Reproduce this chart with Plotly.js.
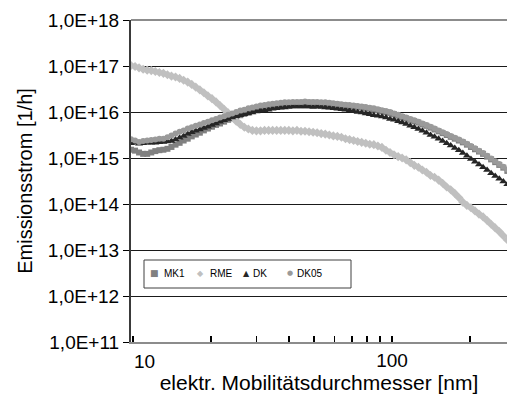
<!DOCTYPE html>
<html>
<head>
<meta charset="utf-8">
<script src="https://cdn.plot.ly/plotly-3.0.1.min.js"></script>
<style>html,body{margin:0;padding:0;background:#fff;}#chart{width:507px;height:398px;}</style>
</head>
<body>
<div id="chart"></div>
<script>
// Mobility diameter [nm] (SMPS channels)
const diameter = [9.82,10.18,10.55,10.94,11.34,11.76,12.19,12.64,13.10,13.58,14.07,14.59,15.13,15.68,16.26,16.85,17.47,18.11,18.77,19.46,20.17,20.91,21.67,22.47,23.29,24.15,25.03,25.95,26.90,27.88,28.90,29.96,31.06,32.20,33.38,34.59,35.87,37.18,38.54,39.95,41.42,42.94,44.51,46.14,47.83,49.58,51.40,53.28,55.23,57.26,59.36,61.53,63.79,66.13,68.55,71.06,73.66,76.36,79.16,82.06,85.07,88.19,91.42,94.77,98.24,101.8,105.6,109.4,113.4,117.6,121.9,126.4,131.0,135.8,140.8,145.9,151.3,156.8,162.6,168.5,174.7,181.1,187.7,194.6,201.7,209.1,216.7,224.7,232.9,241.4,250.3,259.5,269.0,278.8,289.0];

// Emission rate, given as log10 of [1/h]
const mk1Log10 = [15.18,15.16,15.12,15.09,15.09,15.12,15.15,15.17,15.18,15.20,15.24,15.29,15.33,15.38,15.42,15.47,15.51,15.55,15.60,15.64,15.68,15.72,15.75,15.79,15.83,15.86,15.89,15.93,15.96,15.99,16.02,16.05,16.07,16.10,16.12,16.14,16.15,16.16,16.17,16.18,16.19,16.19,16.20,16.20,16.20,16.20,16.19,16.19,16.18,16.18,16.17,16.16,16.15,16.14,16.13,16.12,16.11,16.10,16.08,16.07,16.05,16.04,16.02,16.00,15.98,15.95,15.92,15.89,15.86,15.83,15.80,15.77,15.73,15.70,15.66,15.62,15.58,15.54,15.50,15.46,15.42,15.38,15.34,15.29,15.24,15.19,15.14,15.09,15.03,14.97,14.91,14.85,14.79,14.72,14.66];
const rmeLog10 = [17.01,16.99,16.96,16.93,16.91,16.90,16.88,16.86,16.84,16.81,16.78,16.76,16.73,16.69,16.65,16.60,16.54,16.48,16.42,16.35,16.29,16.22,16.14,16.06,15.98,15.89,15.80,15.73,15.67,15.63,15.60,15.59,15.59,15.60,15.60,15.60,15.60,15.60,15.60,15.60,15.59,15.60,15.58,15.58,15.57,15.56,15.55,15.53,15.52,15.50,15.48,15.47,15.45,15.42,15.40,15.38,15.36,15.34,15.32,15.30,15.29,15.26,15.23,15.17,15.12,15.07,15.03,15.00,14.96,14.90,14.84,14.80,14.74,14.69,14.62,14.58,14.52,14.45,14.37,14.31,14.23,14.14,14.04,13.97,13.92,13.85,13.78,13.72,13.64,13.56,13.48,13.40,13.31,13.22,13.14];
const dkLog10 = [15.32,15.33,15.31,15.32,15.33,15.33,15.33,15.34,15.35,15.36,15.37,15.40,15.44,15.48,15.52,15.56,15.59,15.62,15.65,15.68,15.72,15.75,15.79,15.82,15.85,15.88,15.91,15.93,15.95,15.97,15.99,16.01,16.03,16.04,16.05,16.07,16.08,16.09,16.10,16.11,16.12,16.12,16.12,16.12,16.12,16.11,16.12,16.11,16.10,16.09,16.08,16.07,16.06,16.05,16.03,16.02,16.00,15.99,15.97,15.95,15.93,15.92,15.90,15.88,15.85,15.83,15.80,15.77,15.74,15.70,15.67,15.63,15.59,15.55,15.50,15.46,15.42,15.37,15.32,15.27,15.22,15.17,15.11,15.05,14.98,14.92,14.86,14.80,14.74,14.67,14.61,14.55,14.49,14.43,14.37];
const dk05Log10 = [15.41,15.38,15.35,15.37,15.38,15.39,15.40,15.42,15.42,15.45,15.49,15.53,15.57,15.60,15.64,15.67,15.70,15.73,15.76,15.79,15.82,15.85,15.88,15.91,15.94,15.97,16.00,16.03,16.05,16.08,16.10,16.12,16.14,16.15,16.17,16.18,16.19,16.20,16.21,16.21,16.22,16.22,16.22,16.23,16.22,16.22,16.22,16.21,16.21,16.20,16.19,16.18,16.17,16.16,16.15,16.14,16.13,16.12,16.11,16.09,16.08,16.06,16.04,16.02,16.00,15.97,15.94,15.91,15.88,15.85,15.82,15.79,15.75,15.72,15.68,15.64,15.60,15.56,15.52,15.48,15.44,15.40,15.36,15.31,15.26,15.21,15.16,15.11,15.05,14.99,14.93,14.87,14.81,14.75,14.69];

const seriesNames = ['MK1', 'RME', 'DK', 'DK05'];
const yTickVals = [1e11, 1e12, 1e13, 1e14, 1e15, 1e16, 1e17, 1e18];
const yTickText = ['1,0E+11', '1,0E+12', '1,0E+13', '1,0E+14', '1,0E+15', '1,0E+16', '1,0E+17', '1,0E+18'];
const xTickVals = [10, 20, 30, 40, 50, 60, 70, 80, 90, 100, 200];
const xTickText = ['', '', '', '', '', '', '', '', '', '100', ''];

const toValue = arr => arr.map(v => Math.pow(10, v));
const FONT = 'Liberation Sans, Arial, sans-serif';

const styles = [
  {symbol: 'square', color: '#808080', size: 6},
  {symbol: 'diamond', color: '#c0c0c0', size: 7},
  {symbol: 'triangle-up', color: '#262626', size: 7},
  {symbol: 'circle', color: '#9a9a9a', size: 6}
];
const logs = [mk1Log10, rmeLog10, dkLog10, dk05Log10];

const traces = logs.map((arr, k) => ({
  type: 'scatter', mode: 'markers', name: seriesNames[k],
  x: diameter, y: toValue(arr), showlegend: false,
  marker: {symbol: styles[k].symbol, color: styles[k].color, size: styles[k].size, line: {width: 0}},
  cliponaxis: true
}));

const L = 131, R = 507, T = 20, B = 342;
const px2paperX = p => (p - L) / (R - L);
const px2paperY = p => (B - p) / (B - T);

const legendItems = [
  {sym: '■', symPx: 154.5, txtPx: 162, symSize: 9},
  {sym: '◆', symPx: 200.5, txtPx: 208, symSize: 8},
  {sym: '▲', symPx: 246, txtPx: 251, symSize: 8},
  {sym: '●', symPx: 289.5, txtPx: 295, symSize: 7}
];
const annotations = [];
legendItems.forEach((it, k) => {
  annotations.push({xref: 'paper', yref: 'paper', x: px2paperX(it.symPx), y: px2paperY(273), xanchor: 'center', yanchor: 'middle',
    text: it.sym, showarrow: false, font: {family: 'DejaVu Sans', size: it.symSize, color: styles[k].color}});
  annotations.push({xref: 'paper', yref: 'paper', x: px2paperX(it.txtPx), y: px2paperY(273), xanchor: 'left', yanchor: 'middle',
    text: seriesNames[k], showarrow: false, font: {family: FONT, size: 10, color: '#000'}});
});
annotations.push({xref: 'x', yref: 'paper', x: 1, y: px2paperY(361), xanchor: 'left', yanchor: 'middle',
  text: '10', showarrow: false, xshift: -1, font: {family: FONT, size: 19, color: '#000'}});

const layout = {
  width: 507, height: 398,
  margin: {l: L, r: 0, t: T, b: 398 - B},
  paper_bgcolor: '#fff', plot_bgcolor: '#fff',
  font: {family: FONT, color: '#000'},
  showlegend: false,
  xaxis: {
    type: 'log', range: [Math.log10(9.82), 2.444],
    tickmode: 'array', tickvals: xTickVals, ticktext: xTickText,
    ticks: 'inside', ticklen: 6, tickwidth: 1.5, tickcolor: '#000',
    tickfont: {family: FONT, size: 19, color: '#000'},
    showline: true, linecolor: '#8c8c8c', linewidth: 2,
    showgrid: false, zeroline: false,
    title: {text: 'elektr. Mobilitätsdurchmesser [nm]', font: {family: FONT, size: 21, color: '#000'}, standoff: 2}
  },
  yaxis: {
    type: 'log', range: [11, 18],
    tickmode: 'array', tickvals: yTickVals, ticktext: yTickText,
    ticks: 'outside', ticklen: 6, tickwidth: 1, tickcolor: '#000',
    tickfont: {family: FONT, size: 19, color: '#000'},
    showline: true, linecolor: '#3a3a3a', linewidth: 2,
    showgrid: true, gridcolor: '#1a1a1a', gridwidth: 1, zeroline: false,
    title: {text: 'Emissionsstrom [1/h]', font: {family: FONT, size: 20, color: '#000'}, standoff: 10}
  },
  shapes: [
    {type: 'line', xref: 'paper', yref: 'paper', x0: 0, x1: 1, y0: 1, y1: 1, line: {color: '#8c8c8c', width: 2}},
    {type: 'rect', xref: 'paper', yref: 'paper', x0: px2paperX(144), x1: px2paperX(351), y0: px2paperY(288), y1: px2paperY(260),
      line: {color: '#404040', width: 1}, fillcolor: '#fff'}
  ],
  annotations: annotations
};

Plotly.newPlot('chart', traces, layout, {displayModeBar: false, staticPlot: true});
</script>
</body>
</html>
